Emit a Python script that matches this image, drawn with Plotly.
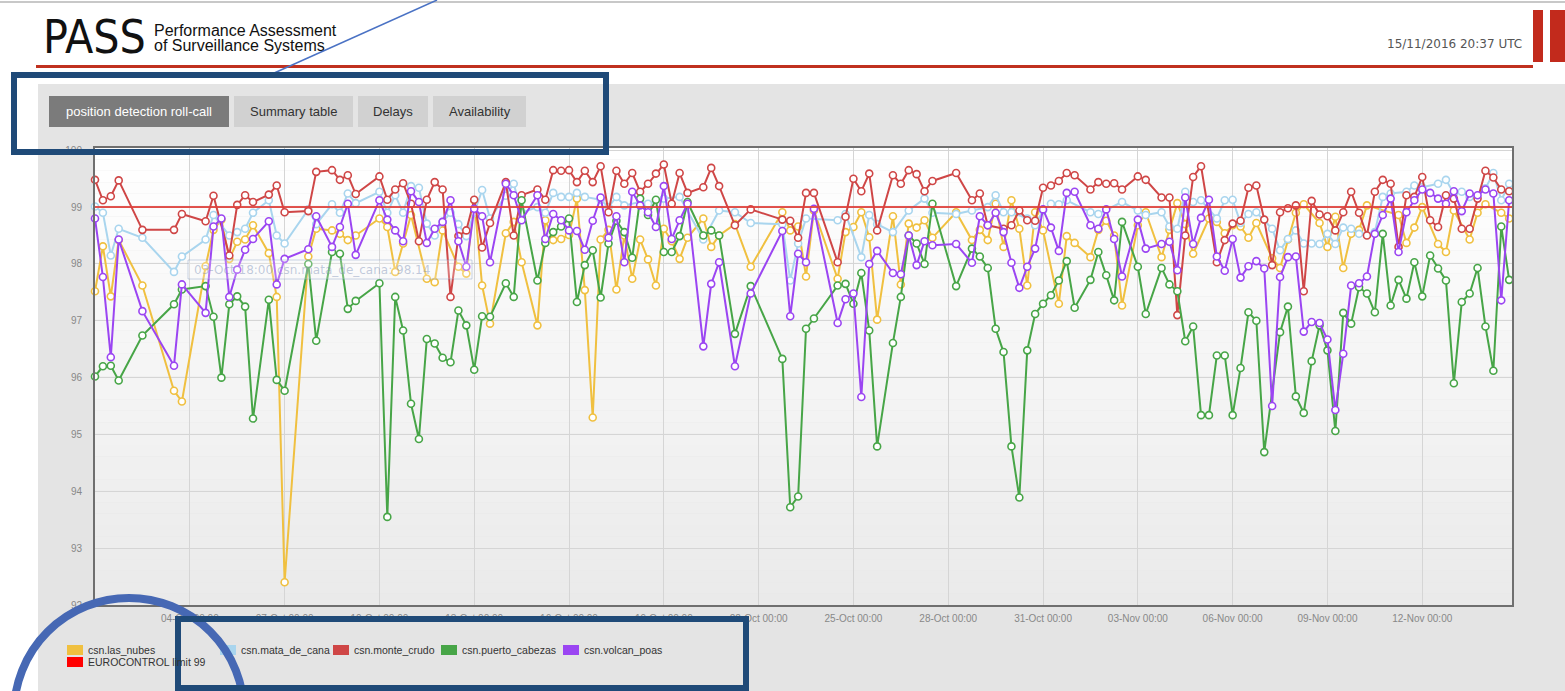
import pandas as pd
import plotly.graph_objects as go

# ---------------- data ----------------
START = pd.Timestamp("2016-10-01 00:00")
AXIS_END_DAYS = 44.84          # right edge of the time axis, days after START
LIMIT_VALUE = 99.0

las_nubes_days = [0, 0.25, 0.5, 0.75, 1.5, 2.5, 2.75, 3.5, 3.75, 4.0, 4.25, 4.5, 4.75, 5.0, 5.5, 5.75, 6.0,
                  6.75, 7.0, 7.5, 7.75, 8.0, 8.25, 9.0, 9.25, 9.5, 9.75, 10.0, 10.5, 10.75, 11.0, 11.5, 11.75,
                  12.0, 12.25, 12.5, 13.0, 13.25, 13.5, 14.0, 14.25, 14.5, 14.75, 15.0, 15.25, 15.5, 15.75,
                  16.0, 16.25, 16.5, 16.75, 17.0, 17.25, 17.5, 17.75, 18.0, 18.25, 18.5, 18.75, 19.25, 19.5,
                  19.75, 20.25, 20.75, 21.75, 22.0, 22.25, 22.5, 22.75, 23.5, 23.75, 24.0, 24.25, 24.5, 24.75,
                  25.25, 25.5, 25.75, 26.0, 26.25, 26.5, 27.25, 27.75, 28.0, 28.25, 28.5, 28.75, 29.0, 29.25,
                  29.5, 29.75, 30.0, 30.5, 30.75, 31.0, 31.5, 31.75, 32.0, 32.25, 32.5, 33.0, 33.25, 33.75,
                  34.0, 34.25, 34.5, 34.75, 35.25, 35.5, 35.75, 36.0, 36.25, 36.5, 36.75, 37.25, 37.5, 37.75,
                  38.0, 38.25, 38.75, 39.0, 39.25, 39.5, 39.75, 40.0, 40.25, 41.25, 41.5, 41.75, 42.0, 42.5,
                  42.75, 43.0, 43.5, 43.75, 44.0, 44.5, 44.75]
las_nubes_vals = [97.52, 98.31, 97.43, 98.42, 97.62, 95.77, 95.58, 97.96, 98.60, 98.78, 98.09, 98.39, 98.43,
                  98.68, 98.19, 97.42, 92.40, 98.13, 98.62, 98.59, 98.53, 98.42, 98.50, 98.80, 98.65, 97.86,
                  98.36, 98.86, 97.74, 97.68, 98.59, 97.95, 97.83, 99.12, 97.62, 96.95, 98.54, 98.74, 98.03,
                  96.92, 98.77, 98.42, 98.44, 98.51, 99.15, 97.54, 95.30, 98.43, 98.60, 97.55, 98.50, 97.74,
                  98.43, 98.08, 97.62, 98.62, 98.40, 98.09, 98.46, 98.80, 98.30, 98.50, 98.70, 97.95, 98.91,
                  98.59, 98.66, 97.78, 98.94, 97.74, 98.56, 98.65, 98.91, 98.47, 97.02, 98.84, 97.64, 98.71,
                  98.64, 98.77, 98.46, 98.91, 98.42, 98.60, 98.42, 99.06, 98.30, 99.12, 98.62, 97.62, 98.91,
                  98.59, 97.30, 98.49, 98.37, 98.12, 98.60, 98.76, 98.50, 97.27, 98.68, 98.91, 98.12, 98.60,
                  99.07, 98.70, 98.18, 98.80, 98.74, 98.54, 98.68, 98.66, 98.46, 98.72, 98.10, 97.93, 98.43,
                  98.90, 99.05, 98.72, 98.30, 98.83, 97.93, 98.53, 98.60, 99.03, 98.86, 98.37, 98.64, 99.00,
                  98.35, 98.21, 98.94, 98.43, 98.90, 99.05, 98.90, 98.80]

mata_de_cana_days = [0, 0.25, 0.5, 0.75, 1.5, 2.5, 2.75, 3.5, 3.75, 4.25, 4.5, 4.75, 5.0, 5.5, 5.75, 6.0, 6.75,
                     7.0, 7.5, 7.75, 8.0, 8.25, 9.0, 9.25, 9.5, 9.75, 10.0, 10.25, 10.5, 10.75, 11.0, 11.25,
                     11.5, 11.75, 12.0, 12.25, 12.5, 13.0, 13.25, 13.5, 14.0, 14.25, 14.5, 14.75, 15.0, 15.25,
                     15.5, 16.0, 16.25, 16.5, 16.75, 17.25, 17.5, 18.0, 18.5, 19.25, 19.75, 20.25, 20.75, 21.75,
                     22.0, 22.25, 22.5, 23.5, 23.75, 24.25, 24.5, 24.75, 25.25, 25.75, 26.25, 26.5, 27.25, 27.75,
                     28.25, 28.5, 28.75, 29.0, 29.5, 29.75, 30.0, 30.25, 30.5, 30.75, 31.5, 31.75, 32.5, 33.0,
                     33.25, 33.75, 34.0, 34.25, 34.5, 34.75, 35.0, 35.5, 35.75, 36.0, 36.25, 36.5, 36.75, 37.25,
                     37.5, 37.75, 38.0, 38.25, 38.5, 38.75, 39.0, 39.25, 39.5, 39.75, 40.0, 40.5, 40.75, 41.0,
                     41.5, 41.75, 42.0, 42.5, 42.75, 43.0, 43.25, 43.5, 44.0, 44.25, 44.5, 44.75]
mata_de_cana_vals = [99.01, 98.90, 98.15, 98.62, 98.46, 97.86, 98.13, 98.43, 98.86, 98.50, 98.56, 98.62, 98.90,
                     99.12, 98.50, 98.36, 98.96, 98.70, 99.05, 98.90, 99.24, 99.07, 99.27, 98.90, 99.21, 98.90,
                     99.37, 99.34, 98.71, 98.50, 98.74, 98.90, 98.70, 98.49, 98.90, 99.30, 98.80, 99.20, 99.41,
                     98.90, 99.00, 98.90, 99.25, 99.18, 99.18, 99.25, 99.18, 99.13, 99.00, 99.18, 99.03, 99.09,
                     99.06, 99.15, 99.18, 98.43, 98.94, 98.91, 98.72, 98.70, 97.71, 98.36, 98.80, 98.77, 98.88,
                     98.12, 98.86, 98.70, 98.56, 98.94, 99.15, 98.90, 98.88, 98.94, 99.00, 99.21, 98.91, 98.91,
                     98.80, 98.68, 98.94, 99.06, 99.05, 99.12, 98.91, 98.88, 99.09, 98.94, 98.86, 98.91, 98.66,
                     98.62, 99.27, 99.09, 99.12, 98.80, 99.12, 99.13, 98.72, 98.88, 98.91, 98.62, 98.24, 98.44,
                     98.59, 98.36, 98.36, 98.35, 98.53, 98.35, 98.64, 98.62, 98.53, 98.56, 99.18, 99.24, 99.27,
                     99.38, 99.35, 99.41, 99.48, 99.24, 99.27, 99.18, 99.33, 99.60, 99.12, 99.41]

monte_crudo_days = [0, 0.25, 0.5, 0.75, 1.5, 2.5, 2.75, 3.5, 3.75, 4.25, 4.5, 4.75, 5.0, 5.5, 5.75, 6.0, 6.75,
                    7.0, 7.5, 7.75, 8.0, 8.25, 9.0, 9.25, 9.5, 9.75, 10.0, 10.25, 10.5, 10.75, 11.0, 11.25, 11.5,
                    11.75, 12.0, 12.25, 12.5, 13.0, 13.25, 13.5, 14.0, 14.25, 14.5, 14.75, 15.0, 15.25, 15.5,
                    15.75, 16.0, 16.25, 16.5, 16.75, 17.0, 17.25, 17.5, 17.75, 18.0, 18.25, 18.5, 18.75, 19.25,
                    19.5, 19.75, 20.25, 20.75, 21.75, 22.0, 22.25, 22.5, 22.75, 23.5, 23.75, 24.0, 24.25, 24.5,
                    24.75, 25.25, 25.5, 25.75, 26.0, 26.25, 26.5, 27.25, 27.75, 28.0, 28.25, 28.75, 29.0, 29.25,
                    29.5, 29.75, 30.0, 30.25, 30.5, 30.75, 31.0, 31.5, 31.75, 32.0, 32.25, 32.5, 33.0, 33.25,
                    33.75, 34.0, 34.25, 34.5, 34.75, 35.0, 35.5, 35.75, 36.0, 36.25, 36.5, 36.75, 37.0, 37.25,
                    37.5, 37.75, 38.0, 38.25, 38.5, 38.75, 39.0, 39.25, 39.5, 39.75, 40.0, 40.25, 40.5, 40.75,
                    41.0, 41.25, 41.5, 41.75, 42.0, 42.25, 42.5, 42.75, 43.0, 43.25, 43.5, 43.75, 44.0, 44.25,
                    44.5, 44.75]
monte_crudo_vals = [99.48, 99.12, 99.19, 99.47, 98.60, 98.60, 98.88, 98.75, 99.20, 98.15, 99.04, 99.21, 99.09,
                    99.22, 99.38, 98.91, 98.93, 99.62, 99.65, 99.48, 99.56, 99.23, 99.54, 99.13, 99.31, 99.42,
                    99.06, 98.40, 99.13, 99.44, 99.31, 97.42, 98.49, 98.59, 99.13, 98.29, 98.72, 99.44, 98.50,
                    99.21, 99.31, 99.13, 99.65, 99.64, 99.65, 99.44, 99.64, 99.44, 99.72, 98.91, 99.64, 99.41,
                    99.60, 99.27, 99.41, 99.59, 99.75, 99.06, 99.60, 99.25, 99.35, 99.69, 99.37, 98.68, 98.96,
                    98.78, 98.76, 98.46, 99.25, 99.25, 98.03, 98.83, 99.50, 99.28, 99.59, 98.59, 99.56, 99.41,
                    99.65, 99.58, 99.28, 99.46, 99.60, 99.12, 99.24, 98.68, 98.62, 98.68, 98.94, 98.77, 98.76,
                    99.34, 99.38, 99.46, 99.60, 99.56, 99.31, 99.44, 99.41, 99.42, 99.31, 99.54, 99.48, 99.17,
                    99.17, 97.10, 98.50, 99.53, 99.72, 98.03, 98.42, 98.71, 98.76, 99.34, 99.38, 98.78, 97.98,
                    98.91, 98.98, 99.03, 97.52, 99.11, 98.87, 98.84, 98.59, 98.91, 99.27, 98.90, 98.50, 99.27,
                    99.48, 99.41, 98.30, 99.21, 99.18, 99.53, 98.77, 98.65, 99.21, 99.15, 98.62, 98.62, 99.15,
                    99.64, 99.52, 99.31, 99.28]

puerto_cabezas_days = [0, 0.25, 0.5, 0.75, 1.5, 2.5, 2.75, 3.5, 3.75, 4.0, 4.25, 4.5, 4.75, 5.0, 5.5, 5.75, 6.0,
                       6.75, 7.0, 7.5, 7.75, 8.0, 8.25, 9.0, 9.25, 9.5, 9.75, 10.0, 10.25, 10.5, 10.75, 11.0,
                       11.25, 11.5, 11.75, 12.0, 12.25, 12.5, 13.0, 13.25, 13.5, 14.0, 14.25, 14.5, 14.75, 15.0,
                       15.25, 15.5, 15.75, 16.0, 16.25, 16.5, 16.75, 17.0, 17.25, 17.5, 17.75, 18.0, 18.25, 18.5,
                       18.75, 19.25, 19.5, 19.75, 20.25, 20.75, 21.75, 22.0, 22.25, 22.5, 22.75, 23.5, 23.75,
                       24.0, 24.25, 24.5, 24.75, 25.25, 25.5, 25.75, 26.0, 26.25, 26.5, 27.25, 27.75, 28.0,
                       28.25, 28.5, 28.75, 29.0, 29.25, 29.5, 29.75, 30.0, 30.25, 30.5, 30.75, 31.0, 31.5, 31.75,
                       32.0, 32.25, 32.5, 33.0, 33.25, 33.75, 34.0, 34.25, 34.5, 34.75, 35.0, 35.25, 35.5, 35.75,
                       36.0, 36.25, 36.5, 36.75, 37.0, 37.5, 37.75, 38.0, 38.25, 38.5, 38.75, 39.0, 39.25, 39.5,
                       39.75, 40.0, 40.25, 40.5, 40.75, 41.0, 41.25, 41.5, 41.75, 42.0, 42.25, 42.5, 42.75, 43.0,
                       43.25, 43.5, 43.75, 44.0, 44.25, 44.5, 44.75]
puerto_cabezas_vals = [96.02, 96.20, 96.21, 95.95, 96.74, 97.29, 97.55, 97.61, 97.07, 96.00, 97.29, 97.43, 97.25,
                       95.28, 97.37, 95.96, 95.77, 98.00, 96.65, 98.21, 98.18, 97.21, 97.35, 97.66, 93.55, 97.42,
                       96.83, 95.54, 94.92, 96.68, 96.60, 96.35, 96.27, 97.18, 96.92, 96.14, 97.08, 97.07, 97.66,
                       97.42, 99.12, 97.71, 98.37, 98.56, 98.66, 98.80, 97.33, 97.98, 98.24, 97.41, 98.36, 98.76,
                       98.56, 98.11, 99.15, 98.86, 99.13, 98.21, 98.21, 98.49, 99.09, 98.50, 98.59, 98.50, 96.77,
                       97.61, 96.33, 93.72, 93.91, 96.86, 97.04, 97.62, 97.65, 97.30, 97.84, 96.83, 94.79, 96.61,
                       97.42, 98.50, 98.36, 98.00, 99.06, 97.61, 98.27, 98.13, 97.93, 96.86, 96.45, 94.79, 93.89,
                       96.48, 97.12, 97.30, 97.45, 97.71, 98.05, 97.23, 97.72, 98.21, 97.80, 97.36, 98.74, 97.95,
                       97.12, 97.93, 97.64, 97.52, 96.64, 96.90, 95.34, 95.34, 96.39, 96.39, 95.34, 96.17, 97.15,
                       97.00, 94.69, 96.80, 97.25, 95.67, 95.38, 96.29, 96.92, 96.48, 95.06, 97.14, 96.95, 97.59,
                       97.48, 97.15, 98.53, 97.27, 97.72, 97.39, 98.03, 97.43, 98.15, 97.92, 97.71, 95.90, 97.33,
                       97.48, 97.93, 96.90, 96.12, 98.66, 97.72]

volcan_poas_days = [0, 0.25, 0.5, 0.75, 1.5, 2.5, 2.75, 3.5, 3.75, 4.0, 4.25, 4.5, 4.75, 5.0, 5.5, 5.75, 6.0,
                    6.75, 7.0, 7.5, 7.75, 8.0, 8.25, 9.0, 9.25, 9.5, 9.75, 10.0, 10.25, 10.5, 10.75, 11.0, 11.25,
                    11.5, 11.75, 12.0, 12.25, 12.5, 13.0, 13.25, 13.5, 14.0, 14.25, 14.5, 14.75, 15.0, 15.25,
                    15.5, 15.75, 16.0, 16.25, 16.5, 16.75, 17.0, 17.25, 17.5, 17.75, 18.0, 18.25, 18.5, 18.75,
                    19.25, 19.5, 19.75, 20.25, 20.75, 21.75, 22.0, 22.25, 22.5, 22.75, 23.5, 23.75, 24.0, 24.25,
                    24.5, 24.75, 25.25, 25.5, 25.75, 26.0, 26.25, 26.5, 27.25, 27.75, 28.0, 28.25, 28.5, 28.75,
                    29.0, 29.25, 29.5, 29.75, 30.0, 30.25, 30.5, 30.75, 31.0, 31.5, 31.75, 32.0, 32.25, 32.5,
                    33.0, 33.25, 33.75, 34.0, 34.25, 34.5, 34.75, 35.0, 35.25, 35.5, 35.75, 36.0, 36.25, 36.5,
                    36.75, 37.0, 37.25, 37.5, 37.75, 38.0, 38.25, 38.5, 38.75, 39.0, 39.25, 39.5, 39.75, 40.0,
                    40.25, 40.5, 40.75, 41.0, 41.25, 41.5, 41.75, 42.0, 42.25, 42.5, 42.75, 43.0, 43.25, 43.5,
                    43.75, 44.0, 44.25, 44.5, 44.75]
volcan_poas_vals = [98.80, 97.77, 96.36, 98.43, 97.17, 96.21, 97.64, 97.14, 98.66, 98.80, 97.42, 97.90, 98.25,
                    98.44, 98.75, 97.64, 98.09, 98.26, 98.84, 98.30, 98.65, 99.06, 98.16, 99.12, 98.78, 98.59,
                    98.40, 99.28, 99.09, 98.37, 98.62, 98.74, 99.12, 98.40, 97.95, 98.97, 98.84, 98.03, 99.41,
                    99.21, 98.77, 99.21, 98.44, 98.88, 98.77, 98.59, 98.58, 98.25, 98.76, 99.17, 98.46, 98.84,
                    98.03, 99.27, 99.03, 98.91, 98.65, 99.37, 98.44, 98.77, 99.06, 96.55, 97.65, 98.03, 96.20,
                    97.48, 98.58, 97.08, 98.18, 98.03, 98.97, 96.96, 97.38, 97.48, 95.66, 98.00, 98.23, 97.84,
                    97.82, 98.50, 97.98, 98.40, 98.33, 98.35, 98.02, 98.84, 98.68, 98.90, 98.56, 98.02, 97.58,
                    97.95, 98.27, 98.96, 98.64, 98.23, 99.25, 99.27, 98.68, 98.62, 98.96, 98.44, 97.78, 98.78,
                    98.27, 98.35, 98.39, 97.89, 99.17, 98.35, 98.81, 99.13, 98.13, 97.88, 98.44, 97.76, 97.96,
                    98.05, 97.92, 95.50, 97.77, 98.12, 98.13, 96.81, 96.98, 96.96, 96.67, 95.43, 96.42, 97.62,
                    97.66, 97.78, 98.53, 98.86, 99.15, 98.21, 98.91, 99.12, 99.31, 99.25, 99.15, 99.06, 99.28,
                    98.93, 99.24, 99.21, 99.31, 99.24, 97.36, 99.12]

series_names = ["csn.las_nubes", "csn.mata_de_cana", "csn.monte_crudo", "csn.puerto_cabezas", "csn.volcan_poas"]
limit_name = "EUROCONTROL limit 99"
y_ticks = [92, 93, 94, 95, 96, 97, 98, 99, 100]
x_tick_dates = ["2016-10-04", "2016-10-07", "2016-10-10", "2016-10-13", "2016-10-16", "2016-10-19",
                "2016-10-22", "2016-10-25", "2016-10-28", "2016-10-31", "2016-11-03", "2016-11-06",
                "2016-11-09", "2016-11-12"]

# ---------------- styles ----------------
series_colors = ["#f0c040", "#a9d5ee", "#cf4646", "#47a547", "#9b45f2"]
limit_color = "#ff0000"
W, H = 1565, 691
L, R, T, B = 95, 53, 148, 86
PW, PH = W - L - R, H - T - B


def px(x):
    return (x - L) / PW


def py(y):
    return 1 - (y - T) / PH


def to_time(days):
    return START + pd.to_timedelta(pd.Series(days, dtype=float), unit="D")


fig = go.Figure()
all_days = [las_nubes_days, mata_de_cana_days, monte_crudo_days, puerto_cabezas_days, volcan_poas_days]
all_vals = [las_nubes_vals, mata_de_cana_vals, monte_crudo_vals, puerto_cabezas_vals, volcan_poas_vals]
for name, d, v, c in zip(series_names, all_days, all_vals, series_colors):
    fig.add_trace(go.Scatter(
        x=to_time(d), y=v, mode="lines+markers", name=name,
        line=dict(color=c, width=2),
        marker=dict(symbol="circle", size=7, color="white", line=dict(color=c, width=1.6)),
        cliponaxis=False, showlegend=False))

fig.add_trace(go.Scatter(
    x=to_time([0, AXIS_END_DAYS]), y=[LIMIT_VALUE, LIMIT_VALUE], mode="lines", name=limit_name,
    line=dict(color="#e0413c", width=2), opacity=0.9, showlegend=False))

shapes = []
# page grey panel
shapes.append(dict(type="rect", xref="paper", yref="paper", x0=px(38), x1=px(W + 5), y0=py(84), y1=py(H + 5),
                   fillcolor="#e4e4e4", line=dict(width=0), layer="below"))
# plot background gradient (white -> light grey)
NB = 40
for i in range(NB):
    t = i / (NB - 1)
    g = int(round(255 - t * (255 - 234)))
    shapes.append(dict(type="rect", xref="paper", yref="paper", x0=0, x1=1,
                       y0=1 - (i + 1) / NB, y1=1 - i / NB,
                       fillcolor=f"rgb({g},{g},{g})", line=dict(width=0), layer="below"))

# header lines and bars
shapes.append(dict(type="line", xref="paper", yref="paper", x0=px(0), x1=px(W), y0=py(2), y1=py(2),
                   line=dict(color="#c8c8c8", width=2)))
shapes.append(dict(type="line", xref="paper", yref="paper", x0=px(36), x1=px(1533), y0=py(66.5), y1=py(66.5),
                   line=dict(color="#c0311f", width=3)))
for x0, x1 in [(1533, 1543), (1550, 1566)]:
    shapes.append(dict(type="rect", xref="paper", yref="paper", x0=px(x0), x1=px(x1), y0=py(10), y1=py(62),
                       fillcolor="#c22a1c", line=dict(width=0)))

# tabs
tabs = [("position detection roll-call", 49, 229, True), ("Summary table", 234, 353, False),
        ("Delays", 358, 428, False), ("Availability", 433, 526, False)]
annotations = []
for label, x0, x1, active in tabs:
    shapes.append(dict(type="rect", xref="paper", yref="paper", x0=px(x0), x1=px(x1), y0=py(96), y1=py(127),
                       fillcolor="#7b7b7b" if active else "#d1d1d1", line=dict(width=0)))
    annotations.append(dict(xref="paper", yref="paper", x=px((x0 + x1) / 2), y=py(111.5), text=label,
                            showarrow=False, xanchor="center", yanchor="middle",
                            font=dict(family="Liberation Sans, Arial", size=13,
                                      color="#ffffff" if active else "#333333")))

# faint tooltip remnant
shapes.append(dict(type="rect", xref="paper", yref="paper", x0=px(188), x1=px(472), y0=py(260), y1=py(279),
                   fillcolor="rgba(255,255,255,0.25)", line=dict(color="rgba(140,160,195,0.45)", width=1)))
annotations.append(dict(xref="paper", yref="paper", x=px(192), y=py(269.5), xanchor="left", yanchor="middle",
                        text="03-Oct 18:00 csn.mata_de_cana: 98.14", showarrow=False,
                        font=dict(family="DejaVu Sans", size=12, color="rgba(120,140,180,0.45)")))

# legend (custom, below the plot)
legend_items = [(series_names[0], series_colors[0], 86, 650), (series_names[1], series_colors[1], 239, 650),
                (series_names[2], series_colors[2], 352, 650), (series_names[3], series_colors[3], 460, 650),
                (series_names[4], series_colors[4], 582, 650), (limit_name, limit_color, 86, 662)]
for name, c, tx, ty in legend_items:
    shapes.append(dict(type="rect", xref="paper", yref="paper", x0=px(tx - 19), x1=px(tx - 3),
                       y0=py(ty - 5), y1=py(ty + 5), fillcolor=c, line=dict(width=0)))
    annotations.append(dict(xref="paper", yref="paper", x=px(tx), y=py(ty), text=name, showarrow=False,
                            xanchor="left", yanchor="middle",
                            font=dict(family="Liberation Sans, Arial", size=10.5, color="#333333")))

# header text
annotations += [
    dict(xref="paper", yref="paper", x=px(41), y=py(37), text="PASS", showarrow=False, xanchor="left",
         yanchor="middle", font=dict(family="Liberation Sans Narrow, DejaVu Sans Condensed, Liberation Sans",
                                     size=46, color="#111111")),
    dict(xref="paper", yref="paper", x=px(152), y=py(31), text="Performance Assessment", showarrow=False,
         xanchor="left", yanchor="middle", font=dict(family="Liberation Sans", size=16, color="#111111")),
    dict(xref="paper", yref="paper", x=px(152), y=py(45), text="of Surveillance Systems", showarrow=False,
         xanchor="left", yanchor="middle", font=dict(family="Liberation Sans", size=16, color="#111111")),
    dict(xref="paper", yref="paper", x=px(1524), y=py(44), text="15/11/2016 20:37 UTC", showarrow=False,
         xanchor="right", yanchor="middle", font=dict(family="DejaVu Sans", size=12, color="#555555")),
]

# blue callout decorations on top
shapes.append(dict(type="line", xref="paper", yref="paper", x0=px(272), x1=px(437), y0=py(74), y1=py(0),
                   line=dict(color="#4a72c4", width=1.5)))
shapes.append(dict(type="rect", xref="paper", yref="paper", x0=px(14), x1=px(606), y0=py(75), y1=py(152),
                   line=dict(color="#1f4a78", width=6)))
shapes.append(dict(type="circle", xref="paper", yref="paper", x0=px(14), x1=px(244), y0=py(598), y1=py(828),
                   line=dict(color="#4668b4", width=8)))
shapes.append(dict(type="rect", xref="paper", yref="paper", x0=px(178), x1=px(746), y0=py(619), y1=py(688),
                   line=dict(color="#1f4a78", width=6)))

axis_common = dict(showgrid=True, gridcolor="#d5d5d5", gridwidth=1, showline=True, linecolor="#6f6f6f",
                   linewidth=2, mirror=True, zeroline=False, ticks="outside", tickcolor="rgba(0,0,0,0)",
                   tickfont=dict(family="Liberation Sans, Arial", size=10, color="#888888"))

fig.update_layout(
    width=W, height=H, autosize=False,
    margin=dict(l=L, r=R, t=T, b=B, pad=0),
    paper_bgcolor="#ffffff", plot_bgcolor="rgba(0,0,0,0)",
    showlegend=False,
    xaxis=dict(type="date", range=[START, START + pd.Timedelta(days=AXIS_END_DAYS)],
               tickvals=x_tick_dates, tickformat="%d-%b %H:%M", ticklen=3,
               **axis_common),
    yaxis=dict(range=[92, 100.04], tickvals=y_ticks, ticklen=9, **axis_common),
    shapes=shapes, annotations=annotations,
)

fig.write_html("out.html", config={"displayModeBar": False},
               post_script="document.body.style.margin='0';document.body.style.overflow='hidden';")
